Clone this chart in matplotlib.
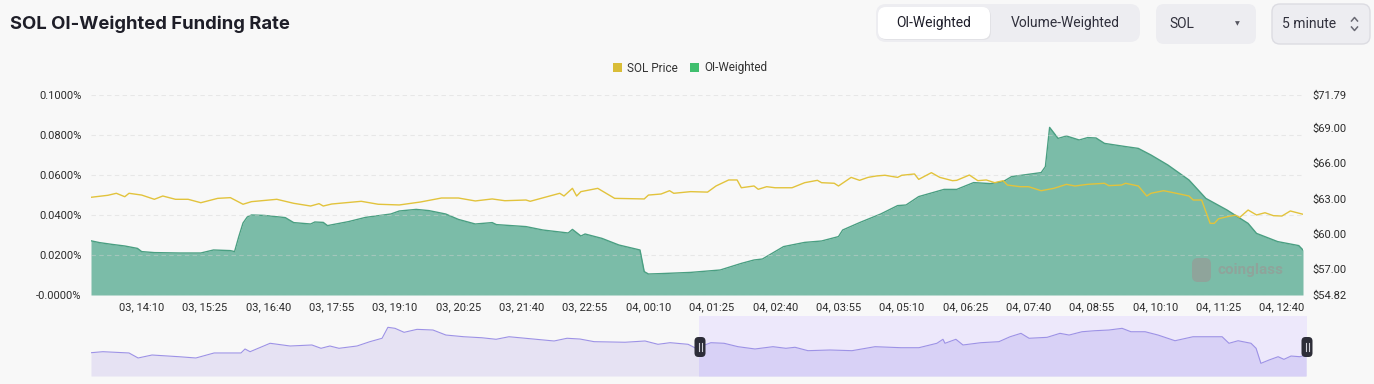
import matplotlib
matplotlib.use('Agg')
import matplotlib.pyplot as plt
from matplotlib.patches import FancyBboxPatch, Rectangle, Patch
from matplotlib.lines import Line2D
from matplotlib.transforms import IdentityTransform

plt.rcParams['font.family'] = ['Roboto', 'DejaVu Sans']

# ---------------- data ----------------
# minutes since "03, 13:00"
fund_t = [10, 20, 35, 50, 65, 70, 85, 115, 140, 155, 175, 180, 185, 190, 195, 200, 215, 240, 250, 270,
          275, 285, 290, 315, 335, 365, 375, 395, 410, 430, 445, 465, 485, 490, 525, 545, 565, 575, 580, 590,
          595, 615, 635, 660, 665, 670, 685, 720, 755, 780, 795, 805, 830, 855, 875, 895, 900, 920, 945, 965,
          975, 990, 1020, 1035, 1055, 1075, 1090, 1100, 1135, 1140, 1145, 1155, 1165, 1180, 1190, 1200, 1210,
          1235, 1250, 1265, 1285, 1310, 1330, 1355, 1380, 1390, 1415, 1440, 1445]
fund_v = [0.0271, 0.0262, 0.0253, 0.0245, 0.0233, 0.0217, 0.0212, 0.0210, 0.0210, 0.0225, 0.0222, 0.0217,
          0.0292, 0.0360, 0.0390, 0.0400, 0.0398, 0.0387, 0.0362, 0.0355, 0.0365, 0.0363, 0.0347, 0.0367,
          0.0388, 0.0405, 0.0420, 0.0428, 0.0422, 0.0405, 0.0378, 0.0355, 0.0362, 0.0352, 0.0342, 0.0325,
          0.0315, 0.0310, 0.0328, 0.0295, 0.0305, 0.0283, 0.0250, 0.0225, 0.0117, 0.0105, 0.0107, 0.0113,
          0.0125, 0.0158, 0.0175, 0.0180, 0.0242, 0.0263, 0.0270, 0.0292, 0.0325, 0.0362, 0.0405, 0.0447,
          0.0450, 0.0492, 0.0528, 0.0528, 0.0562, 0.0557, 0.0567, 0.0592, 0.0612, 0.0642, 0.0838, 0.0783,
          0.0795, 0.0775, 0.0787, 0.0785, 0.0758, 0.0742, 0.0733, 0.0700, 0.0650, 0.0575, 0.0483, 0.0425,
          0.0358, 0.0308, 0.0267, 0.0247, 0.0225]

price_t = [10, 30, 40, 50, 55, 70, 85, 95, 110, 125, 140, 160, 175, 190, 200, 230, 250, 270, 280, 285,
           295, 330, 350, 375, 400, 425, 445, 465, 485, 500, 525, 530, 550, 565, 570, 580, 585, 590, 610, 630,
           665, 670, 685, 695, 700, 720, 740, 750, 765, 775, 780, 795, 800, 810, 820, 840, 855, 870, 875, 890,
           895, 910, 920, 930, 940, 950, 965, 970, 985, 990, 1005, 1015, 1030, 1035, 1050, 1060, 1070, 1080,
           1090, 1095, 1110, 1120, 1135, 1150, 1165, 1175, 1190, 1210, 1215, 1230, 1235, 1250, 1260, 1265,
           1280, 1295, 1310, 1315, 1325, 1335, 1340, 1345, 1355, 1365, 1370, 1380, 1390, 1400, 1410, 1420,
           1430, 1445]
price_v = [63.11, 63.28, 63.45, 63.16, 63.45, 63.30, 62.94, 63.22, 62.94, 62.94, 62.65, 63.02, 63.08, 62.52,
           62.74, 62.94, 62.60, 62.37, 62.57, 62.37, 62.54, 62.77, 62.52, 62.46, 62.71, 63.05, 63.05, 62.80,
           62.97, 62.82, 62.88, 62.77, 63.16, 63.45, 63.22, 63.87, 63.22, 63.59, 63.87, 63.02, 62.97, 63.30,
           63.39, 63.67, 63.45, 63.59, 63.55, 64.07, 64.58, 64.58, 63.92, 64.07, 63.79, 64.01, 63.92, 63.92,
           64.35, 64.55, 64.35, 64.30, 64.07, 64.80, 64.55, 64.80, 64.92, 64.98, 64.80, 64.98, 65.09, 64.63,
           65.20, 64.80, 64.52, 64.55, 65.00, 64.52, 64.58, 64.35, 64.52, 64.15, 64.01, 64.01, 63.67, 63.87,
           64.21, 64.07, 64.21, 64.30, 64.10, 64.15, 64.30, 64.07, 63.22, 63.45, 63.67, 63.45, 63.22, 62.88,
           62.88, 60.90, 60.90, 61.29, 61.46, 61.60, 61.40, 62.03, 61.61, 61.80, 61.55, 61.52, 61.95, 61.67]

xtick_labels = ['03, 14:10', '03, 15:25', '03, 16:40', '03, 17:55', '03, 19:10', '03, 20:25', '03, 21:40',
                '03, 22:55', '04, 00:10', '04, 01:25', '04, 02:40', '04, 03:55', '04, 05:10', '04, 06:25',
                '04, 07:40', '04, 08:55', '04, 10:10', '04, 11:25', '04, 12:40']
rate_ticks = [0.0, 0.02, 0.04, 0.06, 0.08, 0.10]
rate_labels = ['-0.0000%', '0.0200%', '0.0400%', '0.0600%', '0.0800%', '0.1000%']
price_ticks = [54.82, 57.00, 60.00, 63.00, 66.00, 69.00, 71.79]

# navigator: hours since "02, 13:10" (48 h window), price
nav_h = [0.0, 0.47, 1.5, 1.86, 2.41, 3.47, 4.14, 4.86, 5.92, 6.08, 6.28, 7.07, 7.86, 8.72, 9.08, 9.43, 9.79,
         10.5, 11.01, 11.49, 11.72, 12.0, 12.36, 12.87, 13.5, 14.01, 14.72, 15.43, 15.99, 16.5, 17.57, 18.28,
         18.79, 19.3, 19.86, 21.08, 21.87, 22.38, 22.86, 23.57, 23.88, 24.47, 24.99, 25.54, 26.21, 26.92,
         27.43, 27.79, 28.3, 29.17, 30.04, 30.95, 31.97, 32.68, 33.39, 33.63, 33.71, 34.14, 34.42, 35.13,
         35.84, 36.28, 36.71, 37.03, 37.74, 38.25, 38.61, 39.12, 39.63, 40.18, 40.7, 41.05, 41.61, 42.12,
         42.79, 43.5, 44.65, 44.92, 45.28, 45.79, 45.99, 46.18, 46.5, 46.86, 47.09, 47.37, 47.72, 47.96]
nav_p = [62.31, 62.43, 62.28, 61.69, 62.04, 61.84, 61.69, 62.28, 62.28, 62.75, 62.43, 63.42, 63.10, 63.22,
         62.83, 63.10, 62.83, 63.10, 63.61, 64.01, 65.30, 65.18, 64.71, 65.06, 64.98, 64.39, 64.19, 64.07,
         63.89, 64.19, 63.89, 63.69, 64.01, 63.92, 63.61, 63.54, 63.69, 63.30, 63.49, 63.30, 62.83, 63.49,
         63.42, 63.02, 62.75, 63.02, 62.83, 62.95, 62.55, 62.63, 62.55, 63.02, 62.90, 62.90, 63.42, 63.89,
         63.42, 63.89, 63.22, 63.49, 63.61, 64.19, 64.59, 64.01, 64.12, 64.59, 64.39, 64.78, 64.90, 64.98,
         65.18, 64.78, 64.78, 64.39, 63.72, 64.19, 64.19, 63.42, 63.72, 63.42, 62.83, 61.06, 61.45, 61.84,
         61.53, 61.92, 61.84, 62.04]
nav_sel = (24.0, 48.0)


def label_to_min(lbl):
    d, hm = lbl.split(', ')
    h, m = hm.split(':')
    return (int(d) - 3) * 1440 + int(h) * 60 + int(m) - 13 * 60


# ---------------- figure ----------------
W, H = 1374, 384
fig = plt.figure(figsize=(W / 100, H / 100), dpi=100)
BG = '#f8f8f8'
fig.patch.set_facecolor(BG)
ID = IdentityTransform()


def fx(px):
    return px / W


def fy(py):
    return 1 - py / H


def rbox(x0, y0, x1, y1, r, fc, ec='none', lw=0, z=1):
    p = FancyBboxPatch((x0, H - y1), x1 - x0, y1 - y0,
                       boxstyle=f"round,pad=0,rounding_size={r}",
                       fc=fc, ec=ec, lw=lw, transform=ID, zorder=z)
    fig.add_artist(p)


# title
fig.text(fx(10), fy(24), 'SOL OI-Weighted Funding Rate', fontsize=13.3, fontweight='bold',
         family=['Inter', 'DejaVu Sans'], color='#1e1e28', ha='left', va='center')

# header controls
rbox(876, 4, 1140, 42, 10, '#ededf1')
rbox(879, 8, 991, 40, 8, '#e2e2e6', z=2)
rbox(878, 7, 990, 39, 8, '#ffffff', z=3)
fig.text(fx(934), fy(23), 'OI-Weighted', fontsize=10, color='#1d1d29', ha='center', va='center', zorder=4)
fig.text(fx(1065), fy(23), 'Volume-Weighted', fontsize=10, color='#30303c', ha='center', va='center')
rbox(1156, 4, 1256, 44, 8, '#ededf1')
fig.text(fx(1169), fy(24), 'SOL', fontsize=10, color='#30303c', ha='left', va='center')
fig.text(fx(1237), fy(24), '\u25BC', fontsize=4.5, color='#55555f', ha='center', va='center',
         family='DejaVu Sans')
rbox(1272, 4, 1370, 44, 8, '#ededf1', ec='#dcdce2', lw=1)
fig.text(fx(1282), fy(24), '5 minute', fontsize=10, color='#30303c', ha='left', va='center')
for ys, yc in ((21, 17.5), (27, 30.5)):
    fig.add_artist(Line2D([1351.5, 1354.5, 1357.5], [H - ys, H - yc, H - ys], transform=ID,
                          color='#6a6a74', lw=1.1))

# ---------------- main axes ----------------
ax = fig.add_axes([fx(91), fy(295), fx(1303) - fx(91), (295 - 95) / H])
ax.set_facecolor('none')
ax.fill_between(fund_t, fund_v, 0, color='#7bbca8', lw=0, zorder=1)
ax.plot(fund_t, fund_v, color='#4a9f82', lw=1.0, zorder=1.5)
ax.set_xlim(10, 1445)
ax.set_ylim(0, 0.1)
ax.set_yticks(rate_ticks)
ax.set_yticklabels(rate_labels)
ax.set_xticks([label_to_min(l) for l in xtick_labels])
ax.set_xticklabels(xtick_labels)
ax.yaxis.grid(True, color='#d4d4d4', alpha=0.45, lw=0.8, ls=(0, (4, 3)))
ax.set_axisbelow(False)
for s in ax.spines.values():
    s.set_visible(False)
ax.tick_params(axis='y', length=0, pad=7, labelsize=8, labelcolor='#2b2b2b')
ax.tick_params(axis='x', length=0, pad=5, labelsize=8, labelcolor='#2b2b2b')

ax2 = ax.twinx()
ax2.plot(price_t, price_v, color='#e2c33c', lw=1.0)
ax2.set_ylim(54.82, 71.79)
ax2.set_yticks(price_ticks)
ax2.set_yticklabels([f'${p:.2f}' for p in price_ticks])
for s in ax2.spines.values():
    s.set_visible(False)
ax2.tick_params(axis='y', length=0, pad=7, labelsize=8, labelcolor='#2b2b2b')

# watermark
rbox(1192, 258, 1211, 282, 6, '#8fa49b', z=5)
fig.text(fx(1217), fy(270), 'coinglass', fontsize=11, fontweight='bold', color='#8fa49b',
         ha='left', va='center', zorder=5)

# legend
handles = [Patch(fc='#d9bd38', ec='none', label='SOL Price'),
           Patch(fc='#40bf6e', ec='none', label='OI-Weighted')]
fig.legend(handles=handles, loc='center', bbox_to_anchor=(fx(690), fy(68)), ncol=2, frameon=False,
           fontsize=8.5, handlelength=0.75, handleheight=0.75, handletextpad=0.4, columnspacing=1.1,
           labelcolor='#333333')

# ---------------- navigator ----------------
nav = fig.add_axes([fx(91), fy(376), fx(1307) - fx(91), (376 - 316) / H])
nav.set_facecolor('none')
nav.set_xlim(0, 48)
ylo, yhi = 59.57, 66.63
nav.set_ylim(ylo, yhi)
nav.axis('off')
nav.axvspan(nav_sel[0], nav_sel[1], color='#ede8fb', lw=0, zorder=0)
nav.fill_between(nav_h, nav_p, ylo, color='#e6e2f3', lw=0, zorder=1)
f2 = nav.fill_between(nav_h, nav_p, ylo, color='#d8d1f6', lw=0, zorder=2)
f2.set_clip_path(Rectangle((nav_sel[0], ylo), nav_sel[1] - nav_sel[0], yhi - ylo, transform=nav.transData))
nav.plot(nav_h, nav_p, color='#9d92e6', lw=0.8, zorder=3)

for hx in (700, 1307):
    rbox(hx - 5.5, 337, hx + 5.5, 357, 4, '#2d2d38', z=6)
    for dx in (-1.5, 1.5):
        fig.add_artist(Line2D([hx + dx, hx + dx], [H - 343, H - 351], transform=ID, color='#d0d0d8',
                              lw=0.8, zorder=7))

fig.savefig('out.png', dpi=100, facecolor=BG)
